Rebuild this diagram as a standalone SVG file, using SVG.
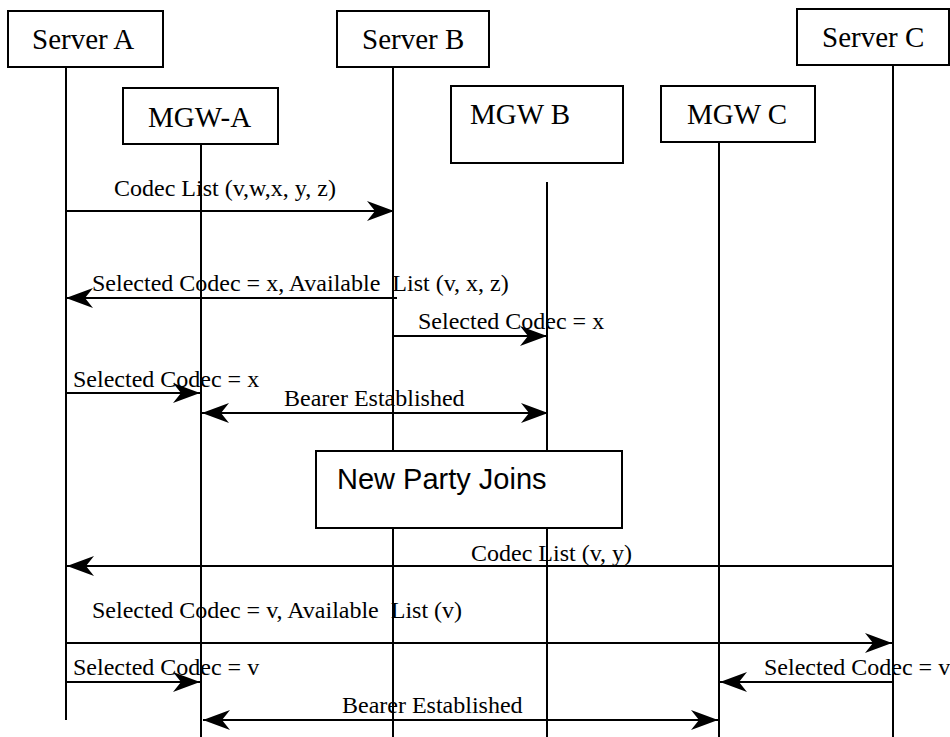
<svg xmlns="http://www.w3.org/2000/svg" width="950" height="737" viewBox="0 0 950 737">
<style>
.box{fill:#fff;stroke:#000;stroke-width:2}
.life{stroke:#000;stroke-width:2;fill:none}
.title{font-family:"Liberation Serif","Times New Roman",serif;font-size:29px;fill:#000}
.lbl{font-family:"Liberation Serif","Times New Roman",serif;font-size:24px;fill:#000;white-space:pre}
.msg{stroke:#000;stroke-width:2;fill:none;marker-end:url(#ah)}
.dbl{marker-start:url(#ah)}
.note{font-family:"Liberation Sans",Arial,sans-serif;font-size:29px;fill:#000}
</style>
<defs>
<marker id="ah" viewBox="0 0 27 20" refX="27" refY="10" markerWidth="27" markerHeight="20" markerUnits="userSpaceOnUse" orient="auto-start-reverse">
<path d="M0,0 L27,10 L0,20 L8,10 Z" fill="#000"/>
</marker>
</defs>
<rect width="950" height="737" fill="#fff"/>
<g id="serverA">
<line class="life" x1="66" y1="67" x2="66" y2="720"/>
<rect class="box" x="8" y="11" width="155" height="56"/>
<text class="title" x="32" y="49">Server A</text>
</g>
<g id="serverB">
<line class="life" x1="393" y1="67" x2="393" y2="737"/>
<rect class="box" x="337" y="11" width="152" height="56"/>
<text class="title" x="362" y="49">Server B</text>
</g>
<g id="serverC">
<line class="life" x1="893" y1="65" x2="893" y2="737"/>
<rect class="box" x="797" y="9" width="152" height="56"/>
<text class="title" x="822" y="47">Server C</text>
</g>
<g id="mgwA">
<line class="life" x1="201" y1="144" x2="201" y2="737"/>
<rect class="box" x="123" y="88" width="155" height="56"/>
<text class="title" x="148" y="127">MGW-A</text>
</g>
<g id="mgwB">
<line class="life" x1="547" y1="182" x2="547" y2="737"/>
<rect class="box" x="451" y="86" width="172" height="77"/>
<text class="title" x="470" y="124">MGW B</text>
</g>
<g id="mgwC">
<line class="life" x1="719" y1="142" x2="719" y2="737"/>
<rect class="box" x="661" y="86" width="154" height="56"/>
<text class="title" x="687" y="124">MGW C</text>
</g>
<g id="newParty">
<rect class="box" x="316" y="451" width="306" height="77"/>
<text class="note" x="337" y="489">New Party Joins</text>
</g>
<g id="connectors">
<line class="msg" x1="66" y1="211" x2="394" y2="211"/>
<text class="lbl" x="114" y="196">Codec List (v,w,x, y, z)</text>
<line class="msg" x1="397" y1="298" x2="66" y2="298"/>
<text class="lbl" x="92" y="291">Selected Codec = x, Available  List (v, x, z)</text>
<line class="msg" x1="393" y1="336" x2="547" y2="336"/>
<text class="lbl" x="418" y="329">Selected Codec = x</text>
<line class="msg" x1="66" y1="393" x2="200" y2="393"/>
<text class="lbl" x="73" y="387">Selected Codec = x</text>
<line class="msg dbl" x1="202" y1="413" x2="548" y2="413"/>
<text class="lbl" x="284" y="406">Bearer Established</text>
<line class="msg" x1="894" y1="566" x2="67" y2="566"/>
<text class="lbl" x="471" y="561">Codec List (v, y)</text>
<line class="msg" x1="66" y1="643" x2="892" y2="643"/>
<text class="lbl" x="92" y="618">Selected Codec = v, Available  List (v)</text>
<line class="msg" x1="66" y1="682" x2="200" y2="682"/>
<text class="lbl" x="73" y="675">Selected Codec = v</text>
<line class="msg" x1="894" y1="682" x2="720" y2="682"/>
<text class="lbl" x="764" y="675">Selected Codec = v</text>
<line class="msg dbl" x1="203" y1="720" x2="718" y2="720"/>
<text class="lbl" x="342" y="713">Bearer Established</text>
</g>
</svg>
